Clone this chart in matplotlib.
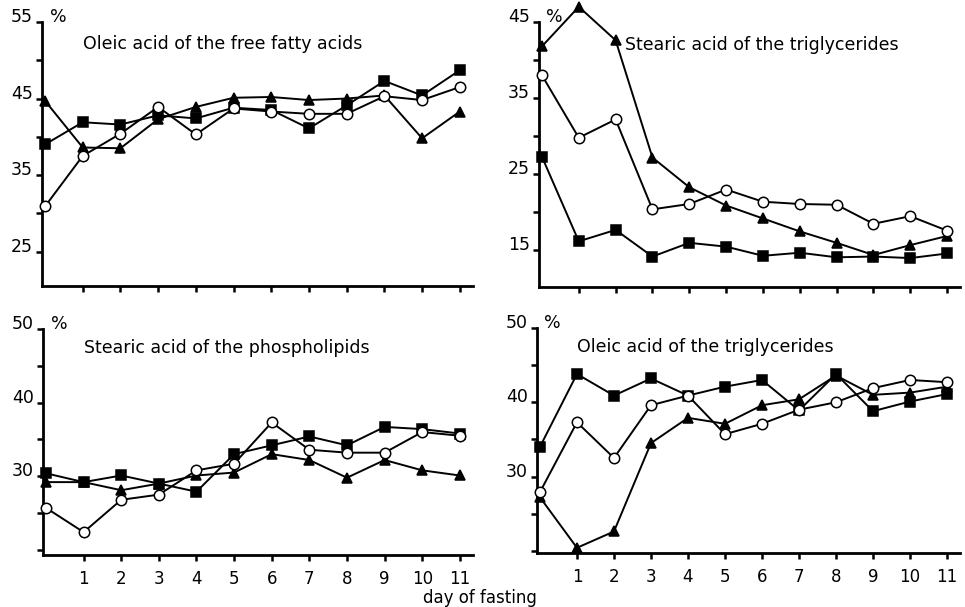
import numpy as np
import matplotlib.pyplot as plt
from matplotlib.ticker import MultipleLocator

days = list(range(12))

# Oleic acid of the free fatty acids
ffa_oleic_sq = [39.0, 41.9, 41.6, 42.8, 42.4, 43.8, 43.5, 41.1, 44.1, 47.3, 45.4, 48.7]
ffa_oleic_ci = [30.9, 37.5, 40.4, 43.9, 40.3, 43.7, 43.3, 43.0, 43.0, 45.3, 44.8, 46.5]
ffa_oleic_tr = [44.7, 38.6, 38.5, 42.3, 43.9, 45.1, 45.2, 44.8, 45.0, 45.4, 39.8, 43.3]

# Stearic acid of the triglycerides
tg_stearic_sq = [27.3, 16.2, 17.7, 14.2, 16.0, 15.5, 14.3, 14.7, 14.1, 14.2, 14.0, 14.6]
tg_stearic_ci = [38.0, 29.8, 32.2, 20.4, 21.1, 23.0, 21.4, 21.1, 21.0, 18.5, 19.5, 17.6]
tg_stearic_tr = [41.8, 47.0, 42.6, 27.2, 23.3, 20.9, 19.2, 17.5, 16.0, 14.4, 15.7, 16.9]

# Stearic acid of the phospholipids
pl_stearic_sq = [30.4, 29.2, 30.1, 29.0, 27.9, 33.0, 34.2, 35.4, 34.2, 36.7, 36.4, 35.8]
pl_stearic_ci = [25.7, 22.4, 26.8, 27.5, 30.8, 31.7, 37.3, 33.6, 33.2, 33.2, 36.0, 35.5]
pl_stearic_tr = [29.2, 29.2, 28.1, 29.0, 30.1, 30.5, 33.0, 32.2, 29.8, 32.2, 30.8, 30.1]

# Oleic acid of the triglycerides
tg_oleic_sq = [34.0, 43.8, 40.9, 43.2, 40.9, 42.1, 43.0, 38.9, 43.8, 38.8, 40.1, 41.1]
tg_oleic_ci = [27.9, 37.3, 32.5, 39.6, 40.9, 35.7, 37.1, 39.0, 40.0, 41.9, 43.0, 42.7]
tg_oleic_tr = [27.2, 20.4, 22.6, 34.5, 37.9, 37.1, 39.6, 40.4, 43.6, 41.0, 41.3, 42.1]

W, H = 965, 607
fig = plt.figure(figsize=(W / 100, H / 100), dpi=100)


def panel(px, title, ymin, ytop, yticks, series, xlabels, title_x):
    left, right, top, bottom = px
    ax = fig.add_axes([left / W, 1 - bottom / H, (right - left) / W, (bottom - top) / H])
    for vals, mk, fc in series:
        ax.plot(days, vals, color='black', lw=1.4, marker=mk, markersize=7.5,
                markerfacecolor=fc, markeredgecolor='black', markeredgewidth=1.1,
                clip_on=False, zorder=3)
    ax.set_xlim(-0.08, 11.35)
    ax.set_ylim(ymin, ytop)
    for s in ['top', 'right']:
        ax.spines[s].set_visible(False)
    for s in ['left', 'bottom']:
        ax.spines[s].set_linewidth(2)
    ax.set_xticks(range(1, 12))
    if xlabels:
        ax.set_xticklabels([str(d) for d in range(1, 12)], fontsize=12)
    else:
        ax.set_xticklabels([])
    ax.set_yticks(yticks)
    ax.set_yticklabels([str(t) for t in yticks], fontsize=12.5)
    for lab in ax.get_yticklabels():
        lab.set_va('baseline')
    ax.yaxis.set_minor_locator(MultipleLocator(5))
    ax.tick_params(axis='both', which='both', direction='out', width=1.8, length=4.5, pad=2)
    ax.tick_params(axis='x', pad=6)
    ax.text(0.12, ytop, '%', fontsize=12.5, va='baseline', ha='left')
    ax.text(title_x, ytop - (ytop - ymin) * 0.085, title, fontsize=12.5, va='center', ha='left')
    return ax


panel((42, 473, 22, 286), 'Oleic acid of the free fatty acids', 20.5, 55, [25, 35, 45, 55],
      [(ffa_oleic_sq, 's', 'black'), (ffa_oleic_tr, '^', 'black'), (ffa_oleic_ci, 'o', 'white')],
      False, 1.0)
panel((539, 960, 22, 287), 'Stearic acid of the triglycerides', 10.2, 45, [15, 25, 35, 45],
      [(tg_stearic_sq, 's', 'black'), (tg_stearic_tr, '^', 'black'), (tg_stearic_ci, 'o', 'white')],
      False, 2.25)
panel((43, 473, 329, 555), 'Stearic acid of the phospholipids', 19.3, 50, [30, 40, 50],
      [(pl_stearic_sq, 's', 'black'), (pl_stearic_tr, '^', 'black'), (pl_stearic_ci, 'o', 'white')],
      True, 1.0)
panel((537, 960, 328, 553), 'Oleic acid of the triglycerides', 19.7, 50, [30, 40, 50],
      [(tg_oleic_sq, 's', 'black'), (tg_oleic_tr, '^', 'black'), (tg_oleic_ci, 'o', 'white')],
      True, 1.0)

fig.text(480 / W, 1 - 598 / H, 'day of fasting', fontsize=12, ha='center', va='center')

fig.savefig('out.png', dpi=100)
